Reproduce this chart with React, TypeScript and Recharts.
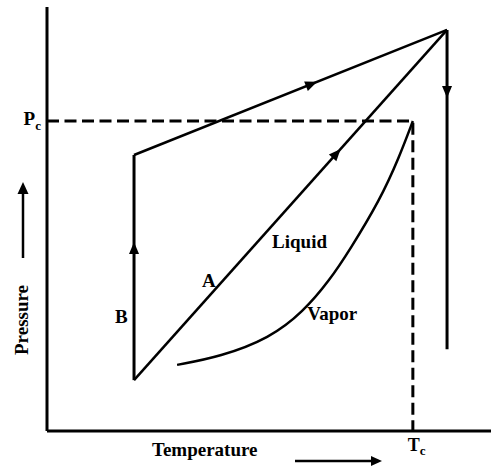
import React from "react";
import { ComposedChart, Line, XAxis, YAxis, ReferenceDot } from "recharts";

// ---- data (temperature 0..100, pressure 0..100, arbitrary units) ----
const PC = 73.1; // critical pressure
const TC = 82.4; // critical temperature

const pathB = [
  { x: 19.6, y: 12.0 },
  { x: 19.6, y: 65.1 },
];
const pathTop = [
  { x: 19.6, y: 65.1 },
  { x: 90.1, y: 94.6 },
];
const pathDown = [
  { x: 90.1, y: 94.6 },
  { x: 90.1, y: 19.3 },
];
const pathA = [
  { x: 19.6, y: 12.0 },
  { x: 90.1, y: 94.6 },
];
const vaporCurve = [
  { x: 29.3, y: 15.6 },
  { x: 39.0, y: 17.5 },
  { x: 50.2, y: 21.9 },
  { x: 57.7, y: 28.1 },
  { x: 63.7, y: 35.6 },
  { x: 68.2, y: 42.7 },
  { x: 75.0, y: 54.5 },
  { x: 79.3, y: 64.5 },
  { x: TC, y: PC },
];
const criticalDash = [
  { x: 0, y: PC },
  { x: TC, y: PC },
  { x: TC, y: 0 },
];
const yTicks = [PC];
const xTicks = [TC];

const FONT = "'Liberation Serif', 'Times New Roman', serif";

function head(x: number, y: number, ang: number, len = 12, w = 10, key?: string) {
  const c = Math.cos(ang), s = Math.sin(ang);
  const bx = x - len * c, by = y - len * s;
  const px = (-s * w) / 2, py = (c * w) / 2;
  return (
    <polygon
      key={key}
      points={`${x},${y} ${bx + px},${by + py} ${bx - px},${by - py}`}
      fill="#000"
      stroke="none"
    />
  );
}

function arrowDot(t: number) {
  return (props: any) => {
    const { index, points, key } = props;
    if (index !== 0 || !points || points.length < 2) return <g key={key ?? `d${index}`} />;
    const p0 = points[0], p1 = points[1];
    const x = p0.x + t * (p1.x - p0.x);
    const y = p0.y + t * (p1.y - p0.y);
    const ang = Math.atan2(p1.y - p0.y, p1.x - p0.x);
    return head(x, y, ang, 12, 10, key ?? `d${index}`);
  };
}

const textStyle = { fontFamily: FONT, fontWeight: 700, fill: "#000" } as const;

const YTick = (props: any) => {
  const { x, y } = props;
  return (
    <text x={x} y={y + 4} textAnchor="end" style={textStyle} fontSize={19}>
      <tspan>P</tspan>
      <tspan fontSize={13} dy={5}>c</tspan>
    </text>
  );
};

const XTick = (props: any) => {
  const { x, y } = props;
  return (
    <text x={x - 5} y={y + 20} textAnchor="start" style={textStyle} fontSize={18}>
      <tspan>T</tspan>
      <tspan fontSize={13} dy={4}>c</tspan>
    </text>
  );
};

const PressureLabel = (props: any) => {
  const vb = props.viewBox || { x: 0, y: 7, width: 47, height: 424 };
  const tx = vb.x + 28;
  const ty = vb.y + 313;
  const ax = vb.x + 23;
  return (
    <g>
      <text
        x={tx}
        y={ty}
        textAnchor="middle"
        transform={`rotate(-90, ${tx}, ${ty})`}
        style={textStyle}
        fontSize={19}
      >
        Pressure
      </text>
      <line x1={ax} y1={vb.y + 251} x2={ax} y2={vb.y + 185} stroke="#000" strokeWidth={2.5} />
      {head(ax, vb.y + 175, -Math.PI / 2, 12, 11)}
    </g>
  );
};

const TemperatureLabel = (props: any) => {
  const vb = props.viewBox || { x: 47, y: 431, width: 444, height: 38 };
  const ty = vb.y + 25;
  const ay = vb.y + 30;
  return (
    <g>
      <text x={vb.x + 105} y={ty} textAnchor="start" style={textStyle} fontSize={19}>
        Temperature
      </text>
      <line x1={vb.x + 248} y1={ay} x2={vb.x + 326} y2={ay} stroke="#000" strokeWidth={2.5} />
      {head(vb.x + 335, ay, 0, 11, 10)}
    </g>
  );
};

const TextMark = (label: string) => (props: any) => {
  const { cx, cy } = props;
  return (
    <text x={cx} y={cy} textAnchor="start" style={textStyle} fontSize={19}>
      {label}
    </text>
  );
};

export default function App() {
  return (
    <div style={{ position: "absolute", left: 0, top: 0 }}>
      <ComposedChart width={491} height={469} margin={{ top: 7, right: 0, bottom: 0, left: 0 }}>
        <XAxis
          type="number"
          dataKey="x"
          domain={[0, 100]}
          ticks={xTicks}
          height={38}
          tickLine={false}
          tickSize={0}
          tickMargin={0}
          axisLine={{ stroke: "#000", strokeWidth: 3 }}
          tick={<XTick />}
          label={{ content: <TemperatureLabel /> }}
          allowDataOverflow
        />
        <YAxis
          type="number"
          dataKey="y"
          domain={[0, 100]}
          ticks={yTicks}
          width={47}
          tickLine={false}
          tickSize={0}
          tickMargin={6}
          axisLine={{ stroke: "#000", strokeWidth: 3 }}
          tick={<YTick />}
          label={{ content: <PressureLabel /> }}
          allowDataOverflow
        />
        <Line
          data={criticalDash}
          dataKey="y"
          type="linear"
          stroke="#000"
          strokeWidth={3}
          strokeDasharray="12 5.5"
          dot={false}
          isAnimationActive={false}
        />
        <Line
          data={vaporCurve}
          dataKey="y"
          type="basis"
          stroke="#000"
          strokeWidth={2.5}
          dot={false}
          isAnimationActive={false}
        />
        <Line
          data={pathA}
          dataKey="y"
          type="linear"
          stroke="#000"
          strokeWidth={2.5}
          dot={arrowDot(0.66)}
          isAnimationActive={false}
        />
        <Line
          data={pathB}
          dataKey="y"
          type="linear"
          stroke="#000"
          strokeWidth={3}
          dot={arrowDot(0.613)}
          isAnimationActive={false}
        />
        <Line
          data={pathTop}
          dataKey="y"
          type="linear"
          stroke="#000"
          strokeWidth={2.5}
          dot={arrowDot(0.585)}
          isAnimationActive={false}
        />
        <Line
          data={pathDown}
          dataKey="y"
          type="linear"
          stroke="#000"
          strokeWidth={3}
          dot={arrowDot(0.213)}
          isAnimationActive={false}
        />
        <ReferenceDot x={50.7} y={43.2} r={0} shape={TextMark("Liquid")} />
        <ReferenceDot x={58.6} y={26.2} r={0} shape={TextMark("Vapor")} />
        <ReferenceDot x={34.9} y={34.0} r={0} shape={TextMark("A")} />
        <ReferenceDot x={15.3} y={25.5} r={0} shape={TextMark("B")} />
      </ComposedChart>
    </div>
  );
}
